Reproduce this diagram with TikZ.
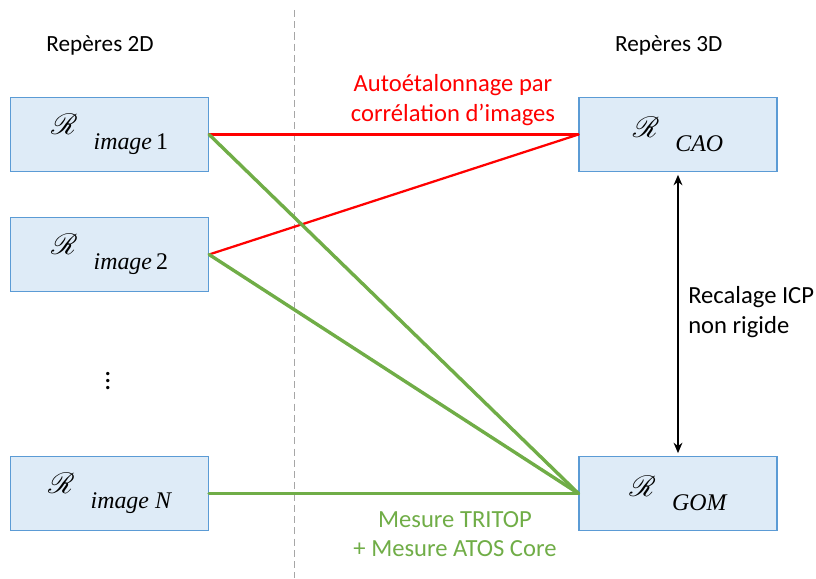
\documentclass[tikz,border=0pt]{standalone}
\usepackage{fontspec}
\setmainfont{Carlito}
\usepackage{mathrsfs}
\usepackage{tikz}
\usetikzlibrary{arrows.meta}
\usepackage{xcolor}
\definecolor{boxfill}{RGB}{222,235,247}
\definecolor{boxline}{RGB}{91,155,213}
\definecolor{calred}{RGB}{255,0,0}
\definecolor{calgreen}{RGB}{112,173,71}

\newcommand{\refrep}[1]{{\fontsize{21}{21}\selectfont$\mathscr{R}$}\hspace{0.4cm}\raisebox{-1.3ex}{\fontspec{Liberation Serif}\fontsize{17}{17}\selectfont\itshape #1}}

\tikzset{
  repbox/.style={draw=boxline,fill=boxfill,line width=0.8pt,minimum width=4.95cm,minimum height=1.85cm,inner sep=0pt},
  redlink/.style={calred,line width=1.6pt},
  greenlink/.style={calgreen,line width=2.4pt},
  bigtext/.style={font=\fontsize{17.5}{21}\selectfont}
}

\begin{document}
\begin{tikzpicture}[>={Stealth[length=2.6mm,width=2.2mm]},font=\fontsize{16.5}{20}\selectfont,line cap=round]
\useasboundingbox (0,0) rectangle (20.4,14.45);
% separation 2D / 3D
\coordinate (sepTop) at (7.35,14.2);
\coordinate (sepBot) at (7.35,0);
\draw[gray!70,line width=0.6pt,dash pattern=on 5pt off 3pt,line cap=butt] (sepTop) -- (sepBot);
\node (titre2d) at (2.5,13.325) {Repères 2D};
\node (titre3d) at (16.72,13.325) {Repères 3D};
% reperes
\node[repbox] (img1) at (2.7375,11.0875) {\refrep{image\,\upshape 1}};
\node[repbox] (img2) at (2.7375,8.0875) {\refrep{image\,\upshape 2}};
\node[repbox] (imgN) at (2.7375,2.1125) {\refrep{image N}};
\node[scale=1.2] (dots) at (2.7,5.05) {$\vdots$};
\node[repbox] (cao) at (16.95,11.0875) {\refrep{CAO}};
\node[repbox] (gom) at (16.95,2.1125) {\refrep{GOM}};
% liaisons
\draw[redlink] (img1.east) -- (cao.west);
\draw[redlink] (img2.east) -- (cao.west);
\draw[greenlink] (img1.east) -- (gom.west);
\draw[greenlink] (img2.east) -- (gom.west);
\draw[greenlink] (imgN.east) -- (gom.west);
\draw[<->,line width=1.3pt] ([yshift=-2pt]cao.south) -- ([yshift=2pt]gom.north);
% textes
\node[bigtext,calred,align=center] (autoetal) at (11.325,11.95) {Autoétalonnage par\\corrélation d’images};
\node[bigtext,calgreen,align=center] (mesure) at (11.375,1.1) {Mesure TRITOP\\+ Mesure ATOS Core};
\node[bigtext,align=left,anchor=west,inner sep=0pt] (icp) at (17.2,6.65) {Recalage ICP\\non rigide};
\end{tikzpicture}
\end{document}
